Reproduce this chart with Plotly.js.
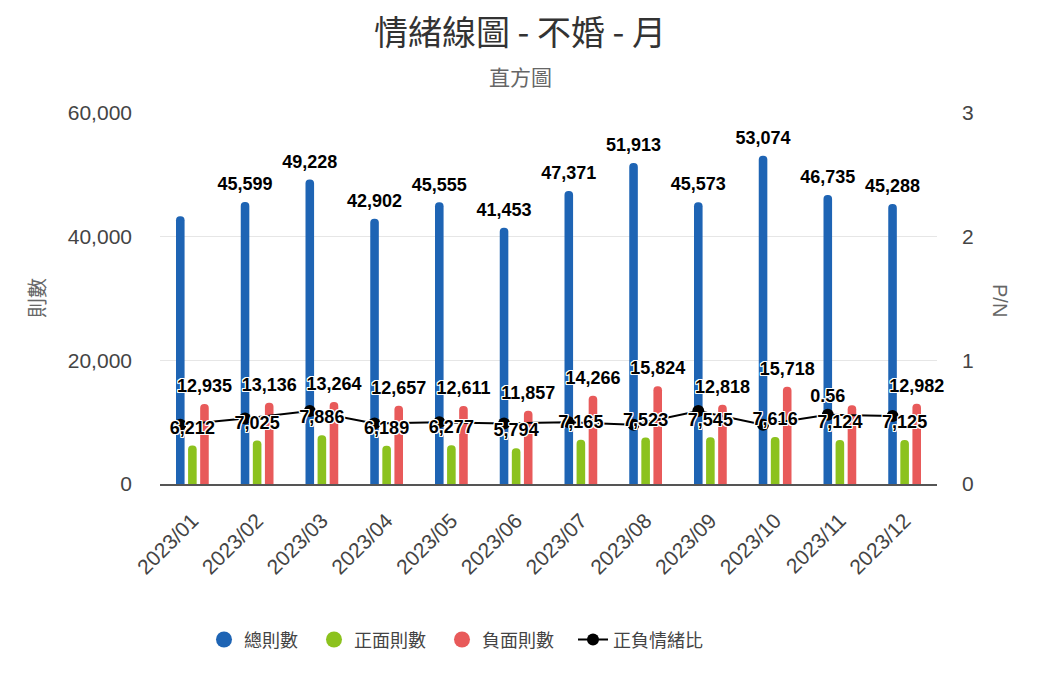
<!DOCTYPE html>
<html>
<head>
<meta charset="utf-8">
<script src="https://cdn.plot.ly/plotly-3.0.1.min.js"></script>
<style>html,body{margin:0;padding:0;background:#fff;}#chart{width:1040px;height:693px;}</style>
</head>
<body>
<div id="chart"></div>
<script>
const months = ['2023/01','2023/02','2023/03','2023/04','2023/05','2023/06','2023/07','2023/08','2023/09','2023/10','2023/11','2023/12'];
const totalCounts = [43300, 45599, 49228, 42902, 45555, 41453, 47371, 51913, 45573, 53074, 46735, 45288];
const positiveCounts = [6212, 7025, 7886, 6189, 6277, 5794, 7165, 7523, 7545, 7616, 7124, 7125];
const negativeCounts = [12935, 13136, 13264, 12657, 12611, 11857, 14266, 15824, 12818, 15718, 12721, 12982];
const pnRatio = [0.48, 0.53, 0.59, 0.49, 0.50, 0.49, 0.50, 0.48, 0.59, 0.48, 0.56, 0.55];
// labels shown in the reference (some are hidden there because of overlap)
const showTotalLabel = [false, true, true, true, true, true, true, true, true, true, true, true];
const showNegativeLabel = [true, true, true, true, true, true, true, true, true, true, false, true];
const showRatioLabel = [false, false, false, false, false, false, false, false, false, false, true, false];

const seriesNames = ['總則數', '正面則數', '負面則數', '正負情緒比'];
const colors = ['#1e64b4', '#8cc21e', '#e85a5a', '#000000'];

const FONT = "'Liberation Sans', 'Noto Sans CJK TC', Arial, sans-serif";
const CJK = "'Noto Sans CJK TC', 'Liberation Sans', sans-serif";
const fmt = v => v.toLocaleString('en-US');
const shadow = '1px 1px 0 #fff, -1px -1px 0 #fff, 1px -1px 0 #fff, -1px 1px 0 #fff, 0 1px 0 #fff, 0 -1px 0 #fff, 1px 0 0 #fff, -1px 0 0 #fff';
const labelFont = {family: FONT, size: 18, color: '#000', weight: 'bold', shadow: shadow};

const seriesValues = [totalCounts, positiveCounts, negativeCounts];
const seriesShow = [showTotalLabel, null, showNegativeLabel];
const legendIds = ['legend', 'legend2', 'legend3', 'legend4'];

const traces = [];
// bars
seriesValues.forEach((vals, i) => {
  traces.push({
    type: 'bar', x: months, y: vals, name: seriesNames[i], yaxis: 'y',
    offsetgroup: String(i + 1),
    marker: {color: colors[i]}, showlegend: false, hoverinfo: 'x+y+name'
  });
});
// ratio line
traces.push({
  type: 'scatter', mode: 'lines+markers+text', x: months, y: pnRatio, yaxis: 'y2',
  name: seriesNames[3], line: {color: '#000', width: 2},
  marker: {color: '#000', size: 12},
  text: pnRatio.map((v, k) => showRatioLabel[k] ? v.toFixed(2) : ''),
  textposition: 'top center', textfont: labelFont, cliponaxis: false,
  showlegend: true, legend: legendIds[3]
});
// bar value labels (overlay so they sit above the line)
seriesValues.forEach((vals, i) => {
  const show = seriesShow[i];
  traces.push({
    type: 'scatter', mode: 'markers+text', x: months, y: vals, yaxis: 'y3',
    offsetgroup: String(i + 1), orientation: 'v',
    marker: {size: 10, color: 'rgba(0,0,0,0)'},
    text: vals.map((v, k) => (show && !show[k]) ? '' : fmt(v)),
    textposition: 'top center', textfont: labelFont, cliponaxis: false,
    showlegend: false, hoverinfo: 'skip'
  });
});
// legend entries for bar series (circle symbols as in the reference)
seriesValues.forEach((vals, i) => {
  traces.push({
    type: 'scatter', mode: 'markers', x: [null], y: [null], yaxis: 'y4',
    name: seriesNames[i], marker: {color: colors[i], size: 16},
    showlegend: true, legend: legendIds[i], hoverinfo: 'skip'
  });
});

const legendFont = {family: CJK, size: 18, color: '#444'};
const legendTextStart = [245, 355, 483, 614];
const mkLegend = px => ({orientation: 'h', x: (px - 41 - 160) / 777, xanchor: 'left', y: -0.42, yanchor: 'middle',
                        font: legendFont, itemsizing: 'trace', bgcolor: 'rgba(0,0,0,0)'});

const layout = {
  width: 1040, height: 693,
  margin: {l: 160, r: 103, t: 113, b: 209},
  paper_bgcolor: '#fff', plot_bgcolor: '#fff',
  font: {family: FONT, color: '#333'},
  title: {text: '情緒線圖 - 不婚 - 月', x: 0.5, xref: 'container', y: 1 - 33/693, yref: 'container', yanchor: 'middle',
          font: {family: CJK, size: 34, color: '#333', weight: 'normal'}},
  barmode: 'group', bargap: 0.44, bargroupgap: 0.29, barcornerradius: '50%',
  scattermode: 'group', scattergap: 0.44,
  xaxis: {type: 'category', showline: true, linecolor: '#555', linewidth: 2, ticks: '',
          tickangle: -45, tickfont: {family: FONT, size: 21, color: '#444'}, ticklabelstandoff: 14,
          showgrid: false, zeroline: false, fixedrange: true},
  yaxis: {range: [0, 60000], dtick: 20000, tickformat: ',d', showgrid: true, gridcolor: '#e6e6e6', gridwidth: 1,
          zeroline: false, showline: false, ticks: '', ticklabelstandoff: 27,
          tickfont: {family: FONT, size: 21, color: '#444'}, fixedrange: true},
  yaxis2: {overlaying: 'y', side: 'right', range: [0, 3], dtick: 1, showgrid: false, zeroline: false,
           ticks: '', ticklabelstandoff: 24, tickfont: {family: FONT, size: 21, color: '#444'}, fixedrange: true},
  yaxis3: {overlaying: 'y', range: [0, 60000], visible: false, fixedrange: true},
  yaxis4: {overlaying: 'y', range: [0, 60000], visible: false, fixedrange: true},
  legend: mkLegend(legendTextStart[0]),
  legend2: mkLegend(legendTextStart[1]),
  legend3: mkLegend(legendTextStart[2]),
  legend4: mkLegend(legendTextStart[3]),
  annotations: [
    {text: '直方圖', xref: 'paper', yref: 'paper', x: (520 - 160) / 777, y: (484 - 76) / 371, showarrow: false,
     font: {family: CJK, size: 21, color: '#666'}, xanchor: 'center', yanchor: 'middle'},
    {text: '則數', xref: 'paper', yref: 'paper', x: (36 - 160) / 777, y: (484 - 298) / 371, showarrow: false,
     textangle: -90, font: {family: CJK, size: 20, color: '#666'}, xanchor: 'center', yanchor: 'middle'},
    {text: 'P/N', xref: 'paper', yref: 'paper', x: (1000 - 160) / 777, y: (484 - 300) / 371, showarrow: false,
     textangle: 90, font: {family: FONT, size: 20, color: '#666'}, xanchor: 'center', yanchor: 'middle'}
  ]
};

Plotly.newPlot('chart', traces, layout, {displayModeBar: false, responsive: false});
</script>
</body>
</html>
